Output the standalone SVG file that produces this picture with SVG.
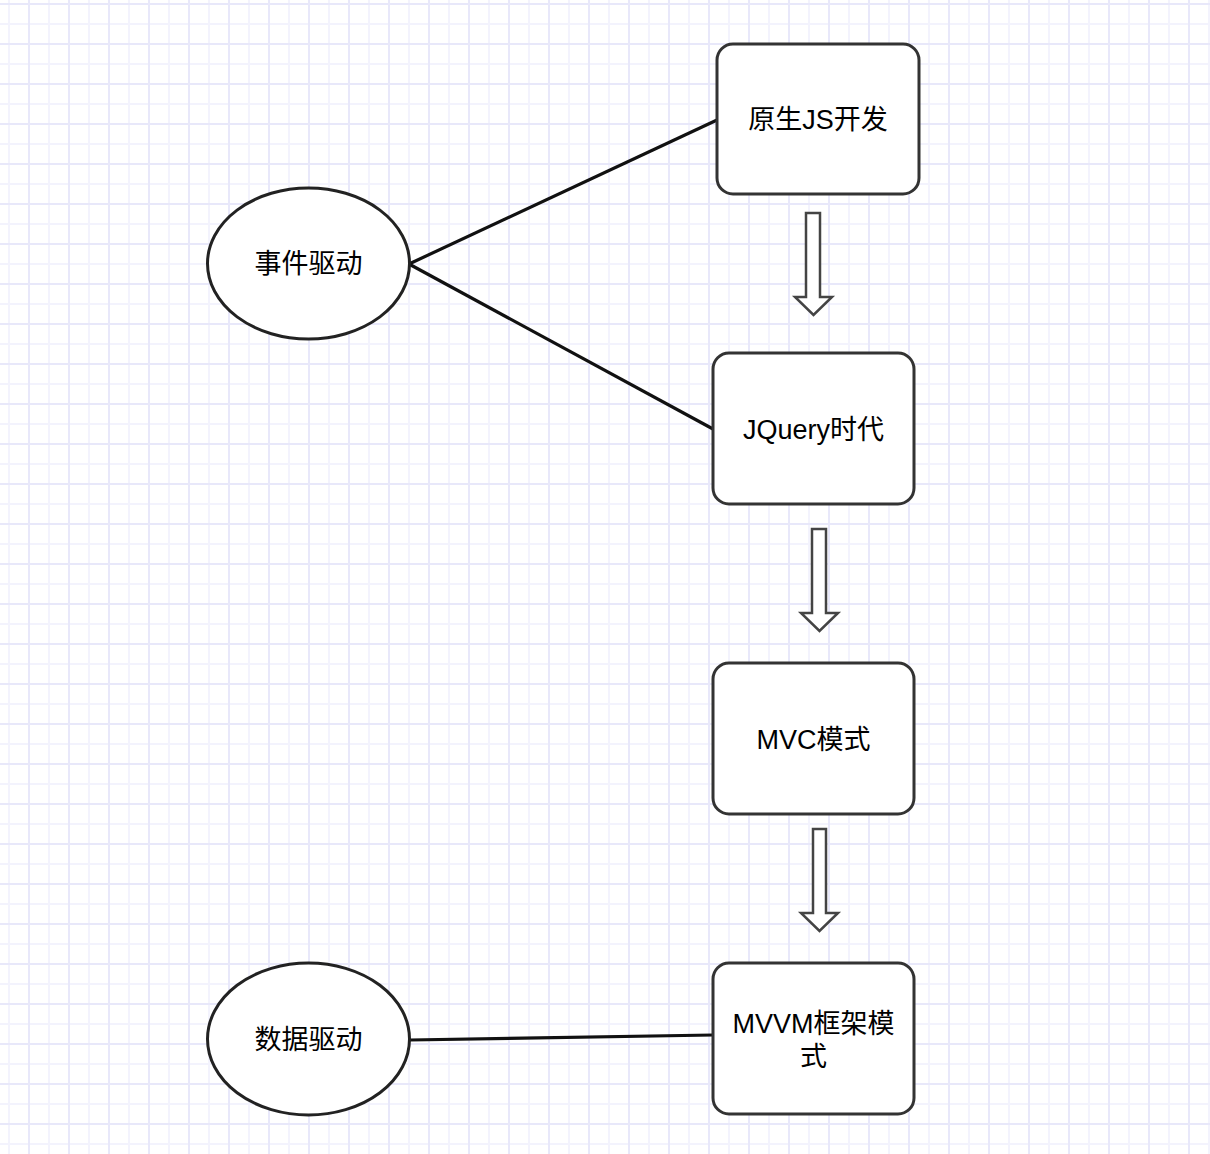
<svg xmlns="http://www.w3.org/2000/svg" width="1210" height="1154" viewBox="0 0 1210 1154">
  <style>
    .box { fill: #ffffff; stroke: #333333; stroke-width: 3; }
    .ell { fill: #ffffff; stroke: #222222; stroke-width: 3; }
    .edge { fill: none; stroke: #111111; stroke-width: 3.2; }
    .flow { fill: #ffffff; stroke: #444444; stroke-width: 2.5; stroke-linejoin: miter; }
    .lbl { font-family: "Liberation Sans", "Noto Sans CJK SC", sans-serif; font-size: 27px; fill: #000000; text-anchor: middle; dominant-baseline: central; }
  </style>
  <defs>
    <pattern id="grid" patternUnits="userSpaceOnUse" x="28" y="3" width="40" height="40">
      <rect x="0" y="0" width="40" height="40" fill="#ffffff"/>
      <rect x="20" y="0" width="2" height="40" fill="#f3f3fd"/>
      <rect x="0" y="20" width="40" height="2" fill="#f3f3fd"/>
      <rect x="0" y="0" width="2" height="40" fill="#e8e8fa"/>
      <rect x="0" y="0" width="40" height="2" fill="#e8e8fa"/>
    </pattern>
  </defs>
  <rect x="0" y="0" width="1210" height="1154" fill="url(#grid)"/>

  <g id="connectors">
    <line class="edge" x1="409" y1="264" x2="717" y2="120"/>
    <line class="edge" x1="409" y1="264" x2="713" y2="429"/>
    <line class="edge" x1="410" y1="1040" x2="713" y2="1035"/>
    <polygon class="flow" points="806,213 820,213 820,297 832,297 813.5,315 795,297 806,297"/>
    <polygon class="flow" points="812,529 826,529 826,613 838,613 819.5,631 801,613 812,613"/>
    <polygon class="flow" points="813,829 826,829 826,913 838,913 819.5,931 801,913 813,913"/>
  </g>

  <g id="node-native">
    <rect class="box" x="717" y="44" width="202" height="150" rx="16" ry="16"/>
    <text class="lbl" x="818" y="120">原生JS开发</text>
  </g>
  <g id="node-jquery">
    <rect class="box" x="713" y="353" width="201" height="151" rx="16" ry="16"/>
    <text class="lbl" x="813.5" y="430">JQuery时代</text>
  </g>
  <g id="node-mvc">
    <rect class="box" x="713" y="663" width="201" height="151" rx="16" ry="16"/>
    <text class="lbl" x="813.5" y="740">MVC模式</text>
  </g>
  <g id="node-mvvm">
    <rect class="box" x="713" y="963" width="201" height="151" rx="16" ry="16"/>
    <text class="lbl" x="813.5" y="1024">MVVM框架模</text>
    <text class="lbl" x="813.5" y="1057">式</text>
  </g>
  <g id="node-event">
    <ellipse class="ell" cx="308.5" cy="263.5" rx="101" ry="75.5"/>
    <text class="lbl" x="308.5" y="264">事件驱动</text>
  </g>
  <g id="node-data">
    <ellipse class="ell" cx="308.5" cy="1039" rx="101" ry="76"/>
    <text class="lbl" x="308.5" y="1040">数据驱动</text>
  </g>
</svg>
